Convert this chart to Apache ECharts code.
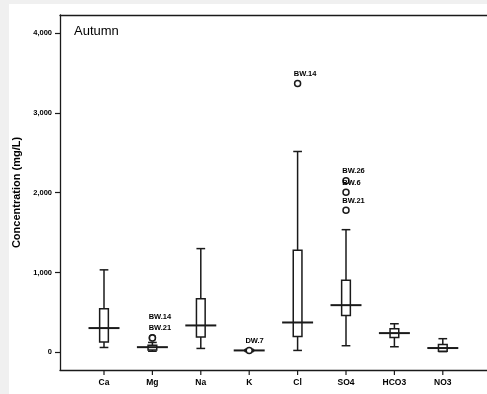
<!DOCTYPE html>
<html>
<head>
<meta charset="utf-8">
<style>
  html, body { margin: 0; padding: 0; background: #f0f0f0; }
  #chart { width: 487px; height: 394px; }
</style>
<script src="https://cdn.jsdelivr.net/npm/echarts/dist/echarts.min.js"></script>
</head>
<body>
<div id="chart"></div>
<script>
// Ion concentrations, autumn sampling (mg/L)
const categories = ['Ca', 'Mg', 'Na', 'K', 'Cl', 'SO4', 'HCO3', 'NO3'];
const whiskerLow  = [62, 15, 50, 10, 25, 84, 71, 10];
const quartile1   = [130, 30, 193, 18, 200, 462, 188, 15];
const medians     = [305, 66, 338, 25, 375, 592, 242, 55];
const quartile3   = [546, 90, 671, 32, 1280, 905, 296, 100];
const whiskerHigh = [1034, 125, 1300, 40, 2516, 1537, 359, 172];

// Outlying wells
const outlierCategory = ['Mg', 'Mg', 'K', 'Cl', 'SO4', 'SO4', 'SO4'];
const outlierValue    = [185, 180, 25, 3367, 2150, 2005, 1780];
const outlierName     = ['BW.14', 'BW.21', 'DW.7', 'BW.14', 'BW.26', 'BW.6', 'BW.21'];

const yTicks = [0, 1000, 2000, 3000, 4000];

// Value range shown on the concentration axis
const Y_MIN = -220;
const Y_MAX = 4225;

// How far each well name sits above its marker (stacked names need more room)
const nameLift = [20, 9, 9, 9, 9, 9, 9];

const INK = '#1a1a1a';
const FONT = 'Liberation Sans, Arial, sans-serif';

const boxData = categories.map((c, i) => [i, whiskerLow[i], quartile1[i], medians[i], quartile3[i], whiskerHigh[i]]);

const outlierData = outlierCategory.map((c, i) => ({
  value: [c, outlierValue[i]],
  label: { position: [0, 3 - nameLift[i]] }
}));

function renderBox(params, api) {
  const x = api.value(0);
  const lo = api.coord([x, api.value(1)]);
  const q1 = api.coord([x, api.value(2)]);
  const md = api.coord([x, api.value(3)]);
  const q3 = api.coord([x, api.value(4)]);
  const hi = api.coord([x, api.value(5)]);
  const base = api.coord([x, Y_MIN]);
  const band = api.size([1, 0])[0];
  const bw = band * 0.18;
  const mw = band * 0.64;
  const cx = lo[0];
  const stroke = { stroke: INK, lineWidth: 1.5, fill: null };
  return {
    type: 'group',
    children: [
      // category tick under the axis line
      { type: 'line', shape: { x1: cx, y1: base[1], x2: cx, y2: base[1] + 5 }, style: { stroke: INK, lineWidth: 1.2 } },
      { type: 'line', shape: { x1: cx, y1: hi[1], x2: cx, y2: q3[1] }, style: stroke },
      { type: 'line', shape: { x1: cx, y1: q1[1], x2: cx, y2: lo[1] }, style: stroke },
      { type: 'line', shape: { x1: cx - bw / 2, y1: hi[1], x2: cx + bw / 2, y2: hi[1] }, style: stroke },
      { type: 'line', shape: { x1: cx - bw / 2, y1: lo[1], x2: cx + bw / 2, y2: lo[1] }, style: stroke },
      { type: 'rect', shape: { x: cx - bw / 2, y: q3[1], width: bw, height: q1[1] - q3[1] },
        style: { stroke: INK, lineWidth: 1.5, fill: '#ffffff' } },
      { type: 'line', shape: { x1: cx - mw / 2, y1: md[1], x2: cx + mw / 2, y2: md[1] },
        style: { stroke: INK, lineWidth: 2 } }
    ]
  };
}

const frameLine = { show: true, onZero: false, lineStyle: { color: INK, width: 1.3 } };

const chart = echarts.init(document.getElementById('chart'), null, { renderer: 'canvas' });

chart.setOption({
  backgroundColor: '#f0f0f0',
  animation: false,
  graphic: [{
    type: 'rect', left: 9, top: 4, z: -10,
    shape: { width: 480, height: 392 },
    style: { fill: '#ffffff' }
  }],
  title: {
    text: 'Autumn', left: 69, top: 20,
    textStyle: { fontFamily: FONT, fontSize: 13, fontWeight: 'normal', color: '#000' }
  },
  grid: [
    { left: 60, top: 15, right: 0, bottom: 24 },
    { left: 79.8, width: 387.2, top: 15, bottom: 24 }
  ],
  xAxis: [
    { gridIndex: 0, type: 'value', min: 0, max: 1, position: 'bottom',
      axisLine: frameLine, axisTick: { show: false }, axisLabel: { show: false }, splitLine: { show: false } },
    {
      gridIndex: 1, type: 'category', data: categories, boundaryGap: true, position: 'bottom',
      axisLine: { show: false, onZero: false },
      axisTick: { show: false },
      axisLabel: { fontFamily: FONT, fontSize: 8.5, fontWeight: 'bold', color: '#000', margin: 8 },
      splitLine: { show: false }
    },
    { gridIndex: 0, type: 'value', min: 0, max: 1, position: 'top',
      axisLine: frameLine, axisTick: { show: false }, axisLabel: { show: false }, splitLine: { show: false } }
  ],
  yAxis: [
    {
      gridIndex: 0, type: 'value', min: Y_MIN, max: Y_MAX,
      name: 'Concentration (mg/L)', nameLocation: 'middle', nameGap: 28,
      nameTextStyle: { fontFamily: FONT, fontSize: 11, fontWeight: 'bold', color: '#000' },
      axisLine: frameLine,
      axisTick: { show: true, length: 5, customValues: yTicks, lineStyle: { color: INK, width: 1.2 } },
      axisLabel: {
        customValues: yTicks, margin: 8,
        fontFamily: FONT, fontSize: 7.5, fontWeight: 'bold', color: '#000',
        formatter: v => v.toLocaleString('en-US')
      },
      splitLine: { show: false }
    },
    { gridIndex: 1, type: 'value', min: Y_MIN, max: Y_MAX, show: false }
  ],
  series: [
    {
      type: 'custom', name: 'box',
      xAxisIndex: 1, yAxisIndex: 1,
      renderItem: renderBox,
      encode: { x: 0, y: [1, 2, 3, 4, 5] },
      clip: false,
      data: boxData,
      z: 2
    },
    {
      type: 'scatter', name: 'outliers',
      xAxisIndex: 1, yAxisIndex: 1,
      symbol: 'circle', symbolSize: 6,
      itemStyle: { color: '#ffffff', borderColor: INK, borderWidth: 1.5, opacity: 1 },
      label: {
        show: true, align: 'left', verticalAlign: 'middle',
        fontFamily: FONT, fontSize: 7.5, fontWeight: 'bold', color: '#000',
        formatter: p => outlierName[p.dataIndex]
      },
      labelLayout: { hideOverlap: false },
      data: outlierData,
      z: 3
    }
  ]
});
</script>
</body>
</html>
